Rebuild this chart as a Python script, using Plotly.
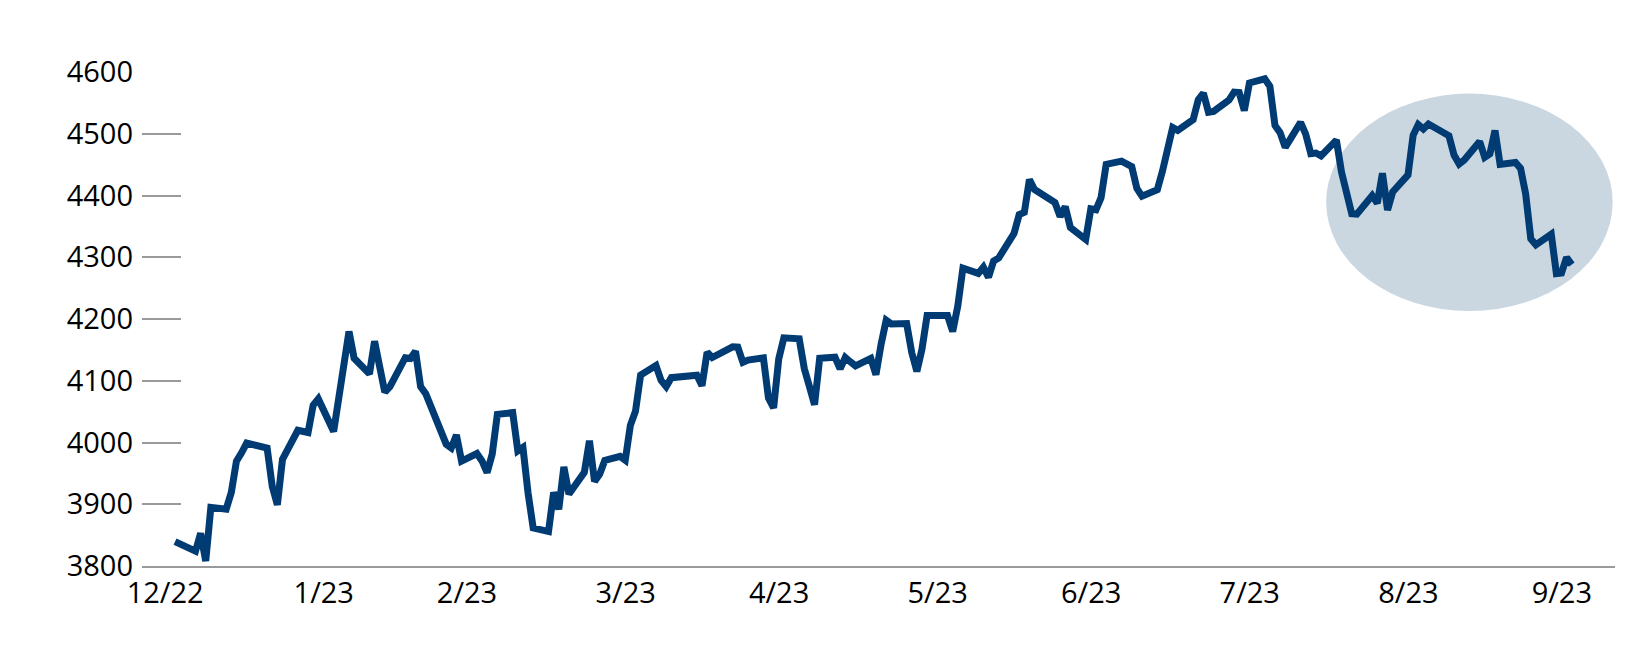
import plotly.graph_objects as go

# Trading dates (Dec 30, 2022 - Sep 29, 2023) and index closes
dates = [
    "2022-12-30",
    "2023-01-03", "2023-01-04", "2023-01-05", "2023-01-06", "2023-01-09", "2023-01-10", "2023-01-11",
    "2023-01-12", "2023-01-13", "2023-01-17", "2023-01-18", "2023-01-19", "2023-01-20", "2023-01-23",
    "2023-01-24", "2023-01-25", "2023-01-26", "2023-01-27", "2023-01-30", "2023-01-31",
    "2023-02-01", "2023-02-02", "2023-02-03", "2023-02-06", "2023-02-07", "2023-02-08", "2023-02-09",
    "2023-02-10", "2023-02-13", "2023-02-14", "2023-02-15", "2023-02-16", "2023-02-17", "2023-02-21",
    "2023-02-22", "2023-02-23", "2023-02-24", "2023-02-27", "2023-02-28",
    "2023-03-01", "2023-03-02", "2023-03-03", "2023-03-06", "2023-03-07", "2023-03-08", "2023-03-09",
    "2023-03-10", "2023-03-13", "2023-03-14", "2023-03-15", "2023-03-16", "2023-03-17", "2023-03-20",
    "2023-03-21", "2023-03-22", "2023-03-23", "2023-03-24", "2023-03-27", "2023-03-28", "2023-03-29",
    "2023-03-30", "2023-03-31",
    "2023-04-03", "2023-04-04", "2023-04-05", "2023-04-06", "2023-04-10", "2023-04-11", "2023-04-12",
    "2023-04-13", "2023-04-14", "2023-04-17", "2023-04-18", "2023-04-19", "2023-04-20", "2023-04-21",
    "2023-04-24", "2023-04-25", "2023-04-26", "2023-04-27", "2023-04-28",
    "2023-05-01", "2023-05-02", "2023-05-03", "2023-05-04", "2023-05-05", "2023-05-08", "2023-05-09",
    "2023-05-10", "2023-05-11", "2023-05-12", "2023-05-15", "2023-05-16", "2023-05-17", "2023-05-18",
    "2023-05-19", "2023-05-22", "2023-05-23", "2023-05-24", "2023-05-25", "2023-05-26", "2023-05-30",
    "2023-05-31",
    "2023-06-01", "2023-06-02", "2023-06-05", "2023-06-06", "2023-06-07", "2023-06-08", "2023-06-09",
    "2023-06-12", "2023-06-13", "2023-06-14", "2023-06-15", "2023-06-16", "2023-06-20", "2023-06-21",
    "2023-06-22", "2023-06-23", "2023-06-26", "2023-06-27", "2023-06-28", "2023-06-29", "2023-06-30",
    "2023-07-03", "2023-07-05", "2023-07-06", "2023-07-07", "2023-07-10", "2023-07-11", "2023-07-12",
    "2023-07-13", "2023-07-14", "2023-07-17", "2023-07-18", "2023-07-19", "2023-07-20", "2023-07-21",
    "2023-07-24", "2023-07-25", "2023-07-26", "2023-07-27", "2023-07-28", "2023-07-31",
    "2023-08-01", "2023-08-02", "2023-08-03", "2023-08-04", "2023-08-07", "2023-08-08", "2023-08-09",
    "2023-08-10", "2023-08-11", "2023-08-14", "2023-08-15", "2023-08-16", "2023-08-17", "2023-08-18",
    "2023-08-21", "2023-08-22", "2023-08-23", "2023-08-24", "2023-08-25", "2023-08-28", "2023-08-29",
    "2023-08-30", "2023-08-31",
    "2023-09-01", "2023-09-05", "2023-09-06", "2023-09-07", "2023-09-08", "2023-09-11", "2023-09-12",
    "2023-09-13", "2023-09-14", "2023-09-15", "2023-09-18", "2023-09-19", "2023-09-20", "2023-09-21",
    "2023-09-22", "2023-09-25", "2023-09-26", "2023-09-27", "2023-09-28", "2023-09-29",
]

closes = [
    3839.5,
    3824.1, 3853.0, 3808.1, 3895.1, 3892.1, 3919.3, 3969.6,
    3983.2, 3999.1, 3991.0, 3928.9, 3898.9, 3972.6, 4019.8,
    4017.0, 4016.2, 4060.4, 4070.6, 4017.8, 4076.6,
    4119.2, 4179.8, 4136.5, 4111.1, 4164.0, 4117.9, 4081.5,
    4090.5, 4137.3, 4136.1, 4147.6, 4090.4, 4079.1, 3997.3,
    3991.1, 4012.3, 3970.0, 3982.2, 3970.2,
    3951.4, 3981.4, 4045.6, 4048.4, 3986.4, 3992.0, 3918.3,
    3861.6, 3855.8, 3919.3, 3891.9, 3960.3, 3916.6, 3951.6,
    4002.9, 3937.0, 3948.7, 3971.0, 3977.5, 3971.3, 4027.8,
    4050.8, 4109.3,
    4124.5, 4100.6, 4090.4, 4105.0, 4109.1, 4108.9, 4092.0,
    4146.2, 4137.6, 4151.3, 4154.9, 4154.5, 4129.8, 4133.5,
    4137.0, 4071.6, 4056.0, 4135.4, 4169.5,
    4167.9, 4119.6, 4090.8, 4061.2, 4136.3, 4138.1, 4119.2,
    4137.6, 4130.6, 4124.1, 4136.3, 4109.9, 4158.8, 4198.1,
    4192.0, 4192.6, 4145.6, 4115.2, 4151.3, 4205.5, 4205.5,
    4179.8,
    4221.0, 4282.4, 4273.8, 4283.9, 4267.5, 4293.9, 4298.9,
    4338.9, 4369.0, 4372.6, 4425.8, 4409.6, 4388.7, 4365.7,
    4381.9, 4348.3, 4328.8, 4378.4, 4376.9, 4396.4, 4450.4,
    4455.6, 4446.8, 4411.6, 4399.0, 4409.5, 4439.3, 4472.2,
    4510.0, 4505.4, 4522.8, 4555.0, 4565.7, 4534.9, 4536.3,
    4554.6, 4567.5, 4566.8, 4537.4, 4582.2, 4589.0,
    4576.7, 4513.4, 4501.9, 4478.0, 4518.4, 4499.4, 4467.7,
    4468.8, 4464.1, 4489.7, 4437.9, 4404.3, 4370.4, 4369.7,
    4399.8, 4387.6, 4436.0, 4376.3, 4405.7, 4433.3, 4497.6,
    4514.9, 4507.7,
    4515.8, 4496.8, 4465.5, 4451.1, 4457.5, 4487.5, 4461.9,
    4467.4, 4505.1, 4450.3, 4453.5, 4444.0, 4402.2, 4330.0,
    4320.1, 4337.4, 4273.5, 4274.5, 4299.7, 4288.1,
]

# Axis ticks
y_ticks = [3800, 3900, 4000, 4100, 4200, 4300, 4400, 4500, 4600]
x_tick_dates = ["2022-12-31", "2023-01-31", "2023-02-28", "2023-03-31", "2023-04-30",
                "2023-05-31", "2023-06-30", "2023-07-31", "2023-08-31", "2023-09-30"]
x_tick_labels = ["12/22", "1/23", "2/23", "3/23", "4/23", "5/23", "6/23", "7/23", "8/23", "9/23"]

# Highlighted region (ellipse) in data coordinates
highlight_x = ["2023-08-12", "2023-10-07"]
highlight_y = [4213, 4565]

FONT = "Open Sans"
NAVY = "#003B73"

fig = go.Figure()
fig.add_trace(go.Scatter(
    x=dates, y=closes, mode="lines",
    line=dict(color=NAVY, width=7),
    hoverinfo="x+y", showlegend=False,
))

fig.add_shape(
    type="circle", xref="x", yref="y",
    x0=highlight_x[0], x1=highlight_x[1], y0=highlight_y[0], y1=highlight_y[1],
    fillcolor="#CAD6E0", line=dict(width=0), layer="below",
)

fig.update_layout(
    width=1640, height=670,
    margin=dict(l=134, r=33, t=64, b=112),
    paper_bgcolor="white", plot_bgcolor="white",
    font=dict(family=FONT, size=29, color="#000000"),
    xaxis=dict(
        type="date",
        range=["2022-12-23 13:00", "2023-10-07 11:00"],
        tickvals=x_tick_dates, ticktext=x_tick_labels,
        ticklabelshift=-15,
        showgrid=False, zeroline=False,
        showline=True, linecolor="#9A9A9A", linewidth=2,
        ticks="", ticklabelstandoff=0,
    ),
    yaxis=dict(
        range=[3800, 4600],
        tickvals=y_ticks,
        showgrid=False, zeroline=False, showline=False,
        ticks="inside", ticklen=39, tickwidth=2, tickcolor="#9A9A9A",
        ticklabelstandoff=8,
    ),
)

fig.write_html("out.html")
